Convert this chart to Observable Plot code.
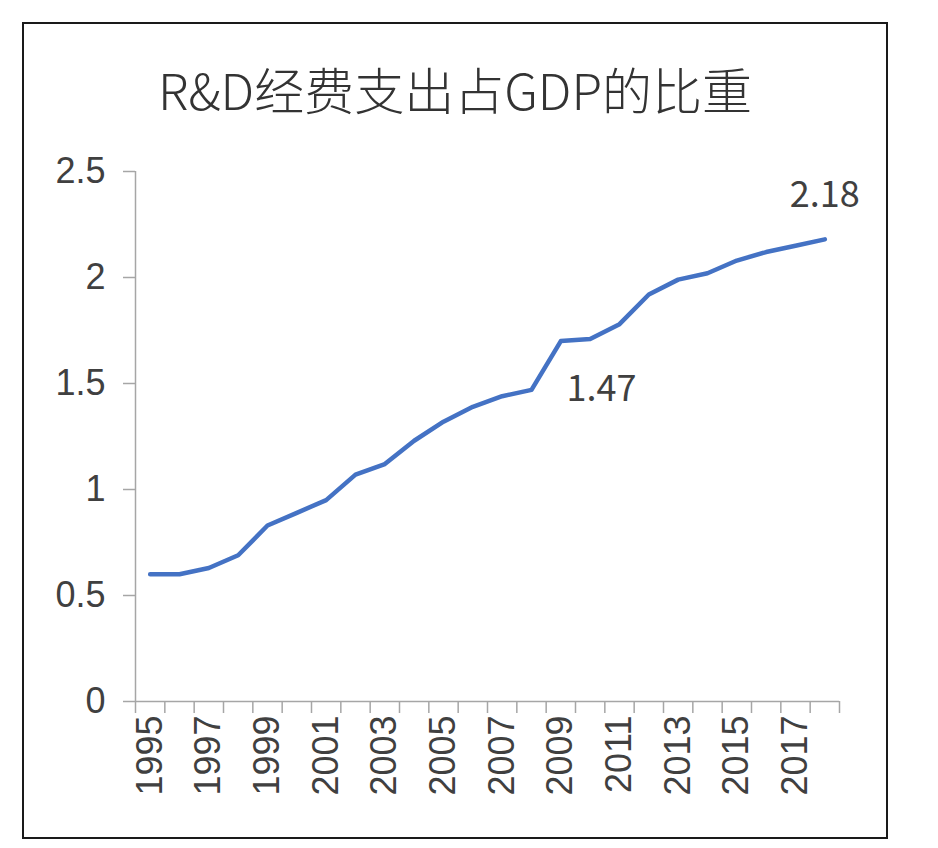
<!DOCTYPE html>
<html><head><meta charset="utf-8">
<script src="https://cdn.jsdelivr.net/npm/d3@7"></script>
<script src="https://cdn.jsdelivr.net/npm/@observablehq/plot@0.6"></script>
<style>
body{margin:0;background:#fff;width:938px;height:848px;position:relative;overflow:hidden;}
#border{position:absolute;left:22px;top:22px;width:862px;height:813px;border:2px solid #1a1a1a;pointer-events:none;}
#title{position:absolute;left:22px;width:866px;top:58px;text-align:center;font-family:"Noto Sans CJK SC",sans-serif;font-size:50px;line-height:60px;color:#333;font-weight:300;}
#chart{position:absolute;left:0;top:150px;}
</style></head><body>
<div id="title">R&amp;D经费支出占GDP的比重</div>
<div id="chart"></div>
<div id="border"></div>
<script>
const years = [1995,1996,1997,1998,1999,2000,2001,2002,2003,2004,2005,2006,2007,2008,2009,2010,2011,2012,2013,2014,2015,2016,2017,2018];
const ratio = [0.60,0.60,0.63,0.69,0.83,0.89,0.95,1.07,1.12,1.23,1.32,1.39,1.44,1.47,1.70,1.71,1.78,1.92,1.99,2.02,2.08,2.12,2.15,2.18];
const yTicks = [0,0.5,1,1.5,2,2.5];
const xLabelYears = [1995,1997,1999,2001,2003,2005,2007,2009,2011,2013,2015,2017];
const annoYears = [2008,2018];
const annoLabels = ["1.47","2.18"];

const data = years.map((y,i)=>({year:y, value:ratio[i]}));
const anno = annoYears.map((y,i)=>({year:y, value:ratio[years.indexOf(y)], label:annoLabels[i]}));
const x0 = d3.min(years)-0.5, x1 = d3.max(years)+0.5;
const bounds = d3.range(x0, x1+0.01, 1);
const axisColor = "#a6a6a6";
const textColor = "#404040";

const plot = Plot.plot({
  width:938, height:698,
  marginTop:21, marginBottom:147, marginLeft:135, marginRight:99,
  style:{fontFamily:"'Liberation Sans', Arial, sans-serif", fontSize:"36px", color:textColor, background:"transparent"},
  x:{domain:[x0,x1]},
  y:{domain:[0,2.5]},
  marks:[
    Plot.ruleX([x0],{stroke:axisColor, strokeWidth:1.5}),
    Plot.ruleY([0],{stroke:axisColor, strokeWidth:1.5}),
    Plot.axisY(yTicks,{tickSize:12, tickPadding:18, tickFormat:d=>`${d}`, stroke:axisColor, strokeWidth:1.5, fill:textColor, fontSize:36, label:null}),
    Plot.axisX(bounds,{tickSize:12, tickFormat:()=>"", stroke:axisColor, strokeWidth:1.5, label:null}),
    Plot.axisX(xLabelYears,{tickSize:0, tickPadding:14, tickRotate:-90, tickFormat:d=>`${d}`, fill:textColor, fontSize:36, label:null}),
    Plot.line(data,{x:"year", y:"value", stroke:"#4472C4", strokeWidth:4.5, strokeLinejoin:"round", strokeLinecap:"round"}),
    Plot.text(anno.filter(d=>d.year===2008),{x:"year", y:"value", text:"label", textAnchor:"start", dx:35, dy:0, fontSize:36, fill:textColor, fontFamily:"'Noto Sans CJK SC', sans-serif"}),
    Plot.text(anno.filter(d=>d.year===2018),{x:"year", y:"value", text:"label", textAnchor:"middle", dx:0, dy:-44, fontSize:36, fill:textColor, fontFamily:"'Noto Sans CJK SC', sans-serif"})
  ]
});
document.getElementById("chart").appendChild(plot);
</script>
</body></html>
